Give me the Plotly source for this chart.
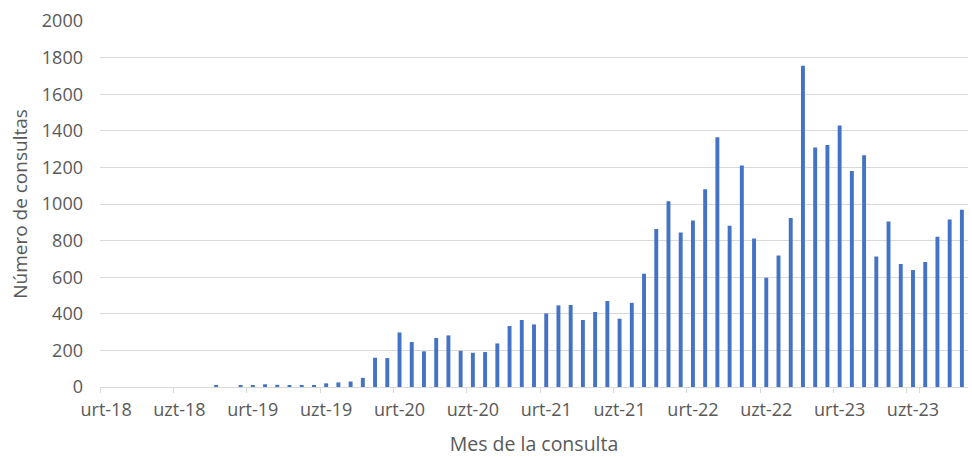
import plotly.graph_objects as go

month_abbr = ["urt", "ots", "mar", "api", "mai", "eka", "uzt", "abu", "ira", "urr", "aza", "abe"]
years = ["18", "19", "20", "21", "22", "23"]
months = [f"{m}-{y}" for y in years for m in month_abbr][:71]  # urt-18 .. aza-23

consultas = [
    0, 0, 0, 0, 0, 0, 0, 0, 0, 8, 0, 6,            # 2018
    8, 15, 12, 10, 10, 10, 20, 25, 30, 50, 160, 158,  # 2019
    298, 246, 195, 268, 282, 198, 187, 191, 238, 333, 366, 342,  # 2020
    402, 446, 448, 366, 410, 470, 373, 460, 619, 863, 1015, 844,  # 2021
    910, 1081, 1365, 881, 1210, 812, 597, 719, 923, 1755, 1309, 1323,  # 2022
    1429, 1181, 1267, 713, 905, 672, 639, 683, 821, 915, 968,  # 2023
]

tick_labels = [m for m in months if m.startswith("urt") or m.startswith("uzt")]
y_ticks = list(range(0, 2001, 200))

font_family = "Open Sans, Noto Sans, Liberation Sans, sans-serif"
grey = "#595959"

fig = go.Figure(
    go.Bar(
        x=months,
        y=consultas,
        marker=dict(color="#4472C4", line=dict(width=0)),
    )
)

fig.update_layout(
    width=972,
    height=457,
    margin=dict(l=100, r=4, t=21, b=70),
    paper_bgcolor="white",
    plot_bgcolor="white",
    bargap=0.68,
    showlegend=False,
    font=dict(family=font_family, color=grey, size=14),
)

fig.update_xaxes(
    type="category",
    range=[-0.5, len(months) - 0.5],
    tickmode="array",
    tickvals=tick_labels,
    ticktext=tick_labels,
    tickson="boundaries",
    tickangle=0,
    ticks="outside",
    ticklen=5,
    tickcolor="#d9d9d9",
    showline=True,
    linecolor="#d9d9d9",
    linewidth=1,
    showgrid=False,
    automargin=False,
    tickfont=dict(size=18, color=grey),
    ticklabelstandoff=6,
    title=dict(text="Mes de la consulta", font=dict(size=19.5, color=grey), standoff=18),
)

fig.update_yaxes(
    range=[0, 2000],
    tickmode="array",
    tickvals=y_ticks,
    showgrid=True,
    gridcolor="#d9d9d9",
    gridwidth=1,
    zeroline=False,
    showline=False,
    ticks="",
    automargin=False,
    tickfont=dict(size=18, color=grey),
    ticklabelstandoff=16,
    title=dict(text="Número de consultas", font=dict(size=19, color=grey), standoff=9),
)

fig.write_html(
    "out.html",
    config={"displayModeBar": False},
    post_script="document.body.style.margin='0';document.body.style.overflow='hidden';",
)
